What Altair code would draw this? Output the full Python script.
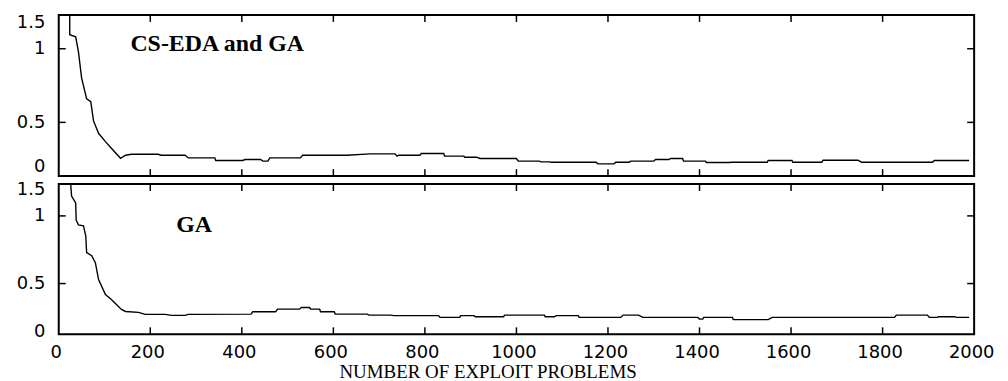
import altair as alt
import pandas as pd

# ---- data ----
x_tick_values = [200, 400, 600, 800, 1000, 1200, 1400, 1600, 1800]
x_label_values = [0, 200, 400, 600, 800, 1000, 1200, 1400, 1600, 1800, 2000]
y_label_values = [0, 0.5, 1, 1.5]
y_tick_values = [0.5, 1]
x_title = "NUMBER OF EXPLOIT PROBLEMS"
panel_labels = ["CS-EDA and GA", "GA"]

csedaga_x = [24, 24, 37, 43, 50, 61, 70, 76, 87, 102, 115, 135, 146, 159, 217, 224, 276, 283,
             341, 343, 402, 407, 441, 446, 457, 461, 528, 533, 626, 630, 680, 735, 739, 743,
             789, 792, 841, 843, 885, 887, 913, 920, 1000, 1004, 1050, 1054, 1072, 1076, 1174,
             1178, 1213, 1217, 1246, 1250, 1300, 1304, 1333, 1337, 1363, 1365, 1413, 1415, 1463,
             1472, 1548, 1550, 1602, 1604, 1667, 1670, 1746, 1754, 1909, 1913, 1989]
csedaga_y = [1.66, 1.27, 1.23, 0.98, 0.80, 0.66, 0.64, 0.51, 0.375, 0.28, 0.205, 0.09, 0.125,
             0.136, 0.136, 0.125, 0.125, 0.094, 0.094, 0.065, 0.065, 0.076, 0.076, 0.057, 0.057,
             0.094, 0.094, 0.125, 0.125, 0.125, 0.14, 0.14, 0.114, 0.125, 0.125, 0.144, 0.144,
             0.114, 0.114, 0.102, 0.102, 0.0875, 0.0875, 0.057, 0.057, 0.049, 0.049, 0.045, 0.045,
             0.026, 0.026, 0.045, 0.045, 0.057, 0.057, 0.076, 0.076, 0.0875, 0.0875, 0.057, 0.057,
             0.042, 0.042, 0.045, 0.045, 0.065, 0.065, 0.045, 0.045, 0.068, 0.068, 0.045, 0.045,
             0.065, 0.065]

ga_x = [26, 28, 37, 38, 43, 54, 59, 61, 72, 80, 87, 102, 115, 137, 146, 174, 189, 233, 246, 276,
        283, 420, 424, 474, 478, 526, 530, 548, 550, 570, 572, 602, 604, 674, 678, 724, 733, 830,
        833, 876, 878, 907, 910, 972, 974, 1061, 1063, 1083, 1087, 1135, 1137, 1228, 1233, 1267,
        1276, 1396, 1400, 1407, 1409, 1472, 1474, 1550, 1559, 1826, 1830, 1898, 1902, 1920, 1922,
        1957, 1961, 1989]
ga_y = [1.61, 1.37, 1.24, 0.97, 0.934, 0.926, 0.853, 0.728, 0.706, 0.654, 0.529, 0.385, 0.333,
        0.229, 0.208, 0.198, 0.177, 0.177, 0.167, 0.167, 0.177, 0.18, 0.205, 0.205, 0.232, 0.232,
        0.25, 0.25, 0.232, 0.232, 0.205, 0.205, 0.18, 0.18, 0.17, 0.17, 0.164, 0.164, 0.146,
        0.146, 0.164, 0.164, 0.153, 0.153, 0.17, 0.17, 0.153, 0.153, 0.164, 0.164, 0.146, 0.146,
        0.17, 0.17, 0.146, 0.146, 0.128, 0.128, 0.146, 0.146, 0.122, 0.122, 0.146, 0.146, 0.17,
        0.17, 0.146, 0.146, 0.153, 0.153, 0.146, 0.146]

W = 920
TICK = 7
LABEL_FONT = "DejaVu Sans"
SERIF = "Liberation Serif"


def panel(xs, ys, label, lx, ly, height, yrange, show_x):
    xscale = alt.Scale(domain=[0, 2000], nice=False, zero=False)
    yscale = alt.Scale(domain=y_label_values, range=yrange, nice=False, zero=False)
    if show_x:
        xaxis = alt.Axis(values=x_label_values, format="d", ticks=False, tickSize=0,
                         domain=False, grid=False, labelFont=LABEL_FONT, labelFontSize=18,
                         labelColor="black", labelPadding=9, labelOffset=-3,
                         labelFlush=False, labelOverlap=False,
                         title=x_title, titleFont=SERIF, titleFontSize=19,
                         titleFontWeight="normal", titleColor="black",
                         titleX=431, titleY=43, titleBaseline="alphabetic",
                         titleAlign="center", titleAnchor="start")
    else:
        xaxis = None
    yaxis = alt.Axis(values=y_label_values, format="~g", ticks=False, tickSize=0,
                     domain=False, grid=False, labelFont=LABEL_FONT, labelFontSize=18,
                     labelColor="black", labelPadding=14, labelBaseline="middle",
                     labelFlush=False, labelOverlap=False, minExtent=45, maxExtent=45,
                     title=None)
    X = alt.X("x:Q", scale=xscale, axis=xaxis)
    Y = alt.Y("y:Q", scale=yscale, axis=yaxis)

    df = pd.DataFrame({"x": xs, "y": ys})
    line = alt.Chart(df).mark_line(color="black", strokeWidth=1.4, clip=True).encode(
        x=X, y=Y, order="i:Q").transform_window(i="row_number()")

    xt = pd.DataFrame({"x": x_tick_values})
    tb = alt.Chart(xt).mark_rule(color="black", strokeWidth=1.5).encode(
        x=X, y=alt.value(height), y2=alt.value(height - TICK))
    tt = alt.Chart(xt).mark_rule(color="black", strokeWidth=1.5).encode(
        x=X, y=alt.value(0), y2=alt.value(TICK))

    yt = pd.DataFrame({"y": y_tick_values})
    tl = alt.Chart(yt).mark_rule(color="black", strokeWidth=1.5).encode(
        y=Y, x=alt.value(0), x2=alt.value(TICK))
    tr = alt.Chart(yt).mark_rule(color="black", strokeWidth=1.5).encode(
        y=Y, x=alt.value(W), x2=alt.value(W - TICK))

    lab = alt.Chart(pd.DataFrame({"label": [label]})).mark_text(
        align="left", baseline="middle", font=SERIF, fontWeight="bold", fontSize=24,
        color="black").encode(x=alt.value(lx), y=alt.value(ly), text="label:N")

    return alt.layer(line, tb, tt, tl, tr, lab).properties(width=W, height=height)


top = panel(csedaga_x, csedaga_y, panel_labels[0], 72, 29, 162, [152, 108, 34, 8], False)
bottom = panel(ga_x, ga_y, panel_labels[1], 118, 41, 151, [148, 100, 32, 5], True)

chart = alt.vconcat(top, bottom, spacing=1).properties(
    padding={"left": 5, "top": 4, "right": 5, "bottom": 0},
    background="white",
).configure_view(stroke="black", strokeWidth=2)

chart.save("out.html", embed_options={"renderer": "svg", "actions": False})
